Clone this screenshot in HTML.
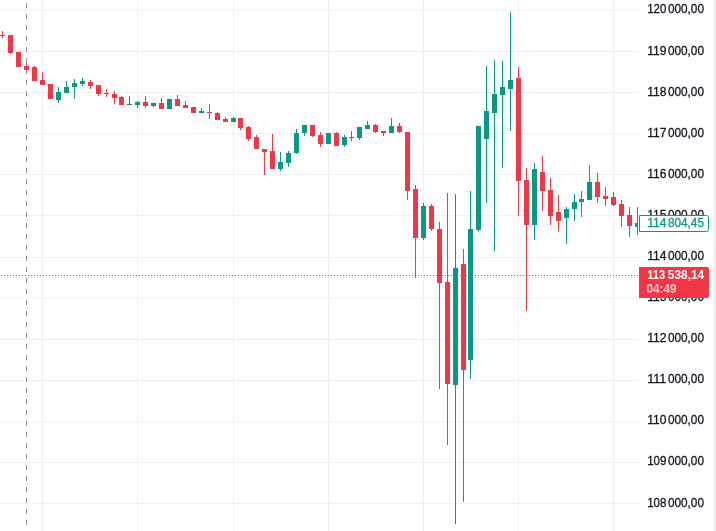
<!DOCTYPE html>
<html><head><meta charset="utf-8"><title>Chart</title>
<style>
html,body{margin:0;padding:0;background:#fff;}
body{width:716px;height:531px;overflow:hidden;}
svg{display:block;}
text{font-family:"Liberation Sans",sans-serif;font-size:12px;}
</style></head><body>
<svg width="716" height="531" viewBox="0 0 716 531">
<rect x="0" y="0" width="716" height="531" fill="#ffffff"/>
<g shape-rendering="crispEdges">
<rect x="42" y="0" width="1" height="531" fill="#2a2e39" fill-opacity="0.065"/>
<rect x="137" y="0" width="1" height="531" fill="#2a2e39" fill-opacity="0.065"/>
<rect x="233" y="0" width="1" height="531" fill="#2a2e39" fill-opacity="0.065"/>
<rect x="328" y="0" width="1" height="531" fill="#2a2e39" fill-opacity="0.065"/>
<rect x="423" y="0" width="1" height="531" fill="#2a2e39" fill-opacity="0.065"/>
<rect x="518" y="0" width="1" height="531" fill="#2a2e39" fill-opacity="0.065"/>
<rect x="613" y="0" width="1" height="531" fill="#2a2e39" fill-opacity="0.065"/>
<rect x="0" y="10" width="638" height="1" fill="#2a2e39" fill-opacity="0.065"/>
<rect x="0" y="51" width="638" height="1" fill="#2a2e39" fill-opacity="0.065"/>
<rect x="0" y="92" width="638" height="1" fill="#2a2e39" fill-opacity="0.065"/>
<rect x="0" y="133" width="638" height="1" fill="#2a2e39" fill-opacity="0.065"/>
<rect x="0" y="174" width="638" height="1" fill="#2a2e39" fill-opacity="0.065"/>
<rect x="0" y="215" width="638" height="1" fill="#2a2e39" fill-opacity="0.065"/>
<rect x="0" y="257" width="638" height="1" fill="#2a2e39" fill-opacity="0.065"/>
<rect x="0" y="298" width="638" height="1" fill="#2a2e39" fill-opacity="0.065"/>
<rect x="0" y="339" width="638" height="1" fill="#2a2e39" fill-opacity="0.065"/>
<rect x="0" y="380" width="638" height="1" fill="#2a2e39" fill-opacity="0.065"/>
<rect x="0" y="421" width="638" height="1" fill="#2a2e39" fill-opacity="0.065"/>
<rect x="0" y="462" width="638" height="1" fill="#2a2e39" fill-opacity="0.065"/>
<rect x="0" y="503" width="638" height="1" fill="#2a2e39" fill-opacity="0.065"/>
<rect x="26" y="3" width="1" height="5" fill="#8f8f8f"/>
<rect x="26" y="14" width="1" height="5" fill="#8f8f8f"/>
<rect x="26" y="25" width="1" height="5" fill="#8f8f8f"/>
<rect x="26" y="36" width="1" height="5" fill="#8f8f8f"/>
<rect x="26" y="47" width="1" height="5" fill="#8f8f8f"/>
<rect x="26" y="58" width="1" height="5" fill="#8f8f8f"/>
<rect x="26" y="69" width="1" height="5" fill="#8f8f8f"/>
<rect x="26" y="80" width="1" height="5" fill="#8f8f8f"/>
<rect x="26" y="91" width="1" height="5" fill="#8f8f8f"/>
<rect x="26" y="102" width="1" height="5" fill="#8f8f8f"/>
<rect x="26" y="113" width="1" height="5" fill="#8f8f8f"/>
<rect x="26" y="124" width="1" height="5" fill="#8f8f8f"/>
<rect x="26" y="135" width="1" height="5" fill="#8f8f8f"/>
<rect x="26" y="146" width="1" height="5" fill="#8f8f8f"/>
<rect x="26" y="157" width="1" height="5" fill="#8f8f8f"/>
<rect x="26" y="168" width="1" height="5" fill="#8f8f8f"/>
<rect x="26" y="179" width="1" height="5" fill="#8f8f8f"/>
<rect x="26" y="190" width="1" height="5" fill="#8f8f8f"/>
<rect x="26" y="201" width="1" height="5" fill="#8f8f8f"/>
<rect x="26" y="212" width="1" height="5" fill="#8f8f8f"/>
<rect x="26" y="223" width="1" height="5" fill="#8f8f8f"/>
<rect x="26" y="234" width="1" height="5" fill="#8f8f8f"/>
<rect x="26" y="245" width="1" height="5" fill="#8f8f8f"/>
<rect x="26" y="256" width="1" height="5" fill="#8f8f8f"/>
<rect x="26" y="267" width="1" height="5" fill="#8f8f8f"/>
<rect x="26" y="278" width="1" height="5" fill="#8f8f8f"/>
<rect x="26" y="289" width="1" height="5" fill="#8f8f8f"/>
<rect x="26" y="300" width="1" height="5" fill="#8f8f8f"/>
<rect x="26" y="311" width="1" height="5" fill="#8f8f8f"/>
<rect x="26" y="322" width="1" height="5" fill="#8f8f8f"/>
<rect x="26" y="333" width="1" height="5" fill="#8f8f8f"/>
<rect x="26" y="344" width="1" height="5" fill="#8f8f8f"/>
<rect x="26" y="355" width="1" height="5" fill="#8f8f8f"/>
<rect x="26" y="366" width="1" height="5" fill="#8f8f8f"/>
<rect x="26" y="377" width="1" height="5" fill="#8f8f8f"/>
<rect x="26" y="388" width="1" height="5" fill="#8f8f8f"/>
<rect x="26" y="399" width="1" height="5" fill="#8f8f8f"/>
<rect x="26" y="410" width="1" height="5" fill="#8f8f8f"/>
<rect x="26" y="421" width="1" height="5" fill="#8f8f8f"/>
<rect x="26" y="432" width="1" height="5" fill="#8f8f8f"/>
<rect x="26" y="443" width="1" height="5" fill="#8f8f8f"/>
<rect x="26" y="454" width="1" height="5" fill="#8f8f8f"/>
<rect x="26" y="465" width="1" height="5" fill="#8f8f8f"/>
<rect x="26" y="476" width="1" height="5" fill="#8f8f8f"/>
<rect x="26" y="487" width="1" height="5" fill="#8f8f8f"/>
<rect x="26" y="498" width="1" height="5" fill="#8f8f8f"/>
<rect x="26" y="509" width="1" height="5" fill="#8f8f8f"/>
<rect x="26" y="520" width="1" height="5" fill="#8f8f8f"/>
<clipPath id="pane"><rect x="0" y="0" width="638" height="531"/></clipPath>
<g clip-path="url(#pane)">
<rect x="2" y="31" width="1" height="7" fill="#f23645"/><rect x="0" y="35" width="5" height="1" fill="#f23645"/>
<rect x="10" y="35" width="1" height="19" fill="#f23645"/><rect x="8" y="35" width="5" height="18" fill="#f23645"/>
<rect x="18" y="52" width="1" height="15" fill="#f23645"/><rect x="16" y="52" width="5" height="15" fill="#f23645"/>
<rect x="26" y="63" width="1" height="8" fill="#f23645"/><rect x="24" y="66" width="5" height="4" fill="#f23645"/>
<rect x="34" y="66" width="1" height="15" fill="#f23645"/><rect x="32" y="67" width="5" height="14" fill="#f23645"/>
<rect x="42" y="72" width="1" height="13" fill="#f23645"/><rect x="40" y="80" width="5" height="5" fill="#f23645"/>
<rect x="50" y="84" width="1" height="15" fill="#f23645"/><rect x="48" y="84" width="5" height="15" fill="#f23645"/>
<rect x="58" y="87" width="1" height="16" fill="#089981"/><rect x="56" y="92" width="5" height="8" fill="#089981"/>
<rect x="66" y="81" width="1" height="12" fill="#089981"/><rect x="64" y="87" width="5" height="6" fill="#089981"/>
<rect x="74" y="79" width="1" height="20" fill="#089981"/><rect x="72" y="83" width="5" height="4" fill="#089981"/>
<rect x="82" y="78" width="1" height="8" fill="#089981"/><rect x="80" y="81" width="5" height="3" fill="#089981"/>
<rect x="90" y="80" width="1" height="9" fill="#f23645"/><rect x="88" y="82" width="5" height="4" fill="#f23645"/>
<rect x="98" y="85" width="1" height="11" fill="#f23645"/><rect x="96" y="85" width="5" height="9" fill="#f23645"/>
<rect x="106" y="89" width="1" height="8" fill="#f23645"/><rect x="104" y="93" width="5" height="1" fill="#f23645"/>
<rect x="114" y="91" width="1" height="13" fill="#f23645"/><rect x="112" y="94" width="5" height="4" fill="#f23645"/>
<rect x="121" y="96" width="1" height="9" fill="#f23645"/><rect x="119" y="97" width="5" height="8" fill="#f23645"/>
<rect x="129" y="96" width="1" height="9" fill="#089981"/><rect x="127" y="104" width="5" height="1" fill="#089981"/>
<rect x="137" y="101" width="1" height="7" fill="#089981"/><rect x="135" y="102" width="5" height="3" fill="#089981"/>
<rect x="145" y="96" width="1" height="12" fill="#f23645"/><rect x="143" y="102" width="5" height="4" fill="#f23645"/>
<rect x="153" y="103" width="1" height="4" fill="#089981"/><rect x="151" y="103" width="5" height="3" fill="#089981"/>
<rect x="161" y="98" width="1" height="11" fill="#f23645"/><rect x="159" y="103" width="5" height="6" fill="#f23645"/>
<rect x="169" y="99" width="1" height="10" fill="#089981"/><rect x="167" y="99" width="5" height="10" fill="#089981"/>
<rect x="177" y="95" width="1" height="11" fill="#f23645"/><rect x="175" y="99" width="5" height="7" fill="#f23645"/>
<rect x="185" y="101" width="1" height="7" fill="#f23645"/><rect x="183" y="105" width="5" height="3" fill="#f23645"/>
<rect x="193" y="107" width="1" height="6" fill="#f23645"/><rect x="191" y="107" width="5" height="6" fill="#f23645"/>
<rect x="201" y="108" width="1" height="5" fill="#089981"/><rect x="199" y="111" width="5" height="2" fill="#089981"/>
<rect x="209" y="104" width="1" height="15" fill="#f23645"/><rect x="207" y="112" width="5" height="1" fill="#f23645"/>
<rect x="217" y="112" width="1" height="8" fill="#f23645"/><rect x="215" y="113" width="5" height="7" fill="#f23645"/>
<rect x="225" y="117" width="1" height="5" fill="#f23645"/><rect x="223" y="119" width="5" height="3" fill="#f23645"/>
<rect x="233" y="117" width="1" height="5" fill="#089981"/><rect x="231" y="118" width="5" height="4" fill="#089981"/>
<rect x="240" y="118" width="1" height="12" fill="#f23645"/><rect x="238" y="118" width="5" height="10" fill="#f23645"/>
<rect x="248" y="126" width="1" height="15" fill="#f23645"/><rect x="246" y="127" width="5" height="12" fill="#f23645"/>
<rect x="256" y="135" width="1" height="14" fill="#f23645"/><rect x="254" y="137" width="5" height="12" fill="#f23645"/>
<rect x="264" y="149" width="1" height="26" fill="#f23645"/><rect x="262" y="149" width="5" height="3" fill="#f23645"/>
<rect x="272" y="134" width="1" height="35" fill="#f23645"/><rect x="270" y="151" width="5" height="18" fill="#f23645"/>
<rect x="280" y="152" width="1" height="19" fill="#089981"/><rect x="278" y="162" width="5" height="7" fill="#089981"/>
<rect x="288" y="151" width="1" height="16" fill="#089981"/><rect x="286" y="153" width="5" height="10" fill="#089981"/>
<rect x="296" y="129" width="1" height="25" fill="#089981"/><rect x="294" y="133" width="5" height="20" fill="#089981"/>
<rect x="304" y="125" width="1" height="11" fill="#089981"/><rect x="302" y="125" width="5" height="8" fill="#089981"/>
<rect x="312" y="125" width="1" height="12" fill="#f23645"/><rect x="310" y="125" width="5" height="11" fill="#f23645"/>
<rect x="320" y="132" width="1" height="15" fill="#f23645"/><rect x="318" y="135" width="5" height="9" fill="#f23645"/>
<rect x="328" y="133" width="1" height="11" fill="#089981"/><rect x="326" y="133" width="5" height="11" fill="#089981"/>
<rect x="336" y="132" width="1" height="14" fill="#f23645"/><rect x="334" y="133" width="5" height="13" fill="#f23645"/>
<rect x="344" y="135" width="1" height="12" fill="#089981"/><rect x="342" y="137" width="5" height="8" fill="#089981"/>
<rect x="351" y="131" width="1" height="10" fill="#089981"/><rect x="349" y="137" width="5" height="1" fill="#089981"/>
<rect x="359" y="127" width="1" height="13" fill="#089981"/><rect x="357" y="127" width="5" height="11" fill="#089981"/>
<rect x="367" y="121" width="1" height="8" fill="#089981"/><rect x="365" y="125" width="5" height="4" fill="#089981"/>
<rect x="375" y="124" width="1" height="9" fill="#f23645"/><rect x="373" y="125" width="5" height="7" fill="#f23645"/>
<rect x="383" y="131" width="1" height="5" fill="#f23645"/><rect x="381" y="131" width="5" height="2" fill="#f23645"/>
<rect x="391" y="118" width="1" height="15" fill="#089981"/><rect x="389" y="126" width="5" height="7" fill="#089981"/>
<rect x="399" y="123" width="1" height="10" fill="#f23645"/><rect x="397" y="126" width="5" height="6" fill="#f23645"/>
<rect x="407" y="132" width="1" height="68" fill="#f23645"/><rect x="405" y="132" width="5" height="59" fill="#f23645"/>
<rect x="415" y="185" width="1" height="93" fill="#f23645"/><rect x="413" y="189" width="5" height="49" fill="#f23645"/>
<rect x="423" y="203" width="1" height="37" fill="#089981"/><rect x="421" y="206" width="5" height="32" fill="#089981"/>
<rect x="431" y="204" width="1" height="27" fill="#f23645"/><rect x="429" y="206" width="5" height="23" fill="#f23645"/>
<rect x="439" y="222" width="1" height="167" fill="#f23645"/><rect x="437" y="229" width="5" height="54" fill="#f23645"/>
<rect x="447" y="193" width="1" height="252" fill="#f23645"/><rect x="445" y="282" width="5" height="102" fill="#f23645"/>
<rect x="455" y="194" width="1" height="330" fill="#089981"/><rect x="453" y="268" width="5" height="117" fill="#089981"/>
<rect x="463" y="249" width="1" height="253" fill="#f23645"/><rect x="461" y="264" width="5" height="106" fill="#f23645"/>
<rect x="470" y="191" width="1" height="188" fill="#089981"/><rect x="468" y="229" width="5" height="131" fill="#089981"/>
<rect x="478" y="126" width="1" height="106" fill="#089981"/><rect x="476" y="126" width="5" height="104" fill="#089981"/>
<rect x="486" y="66" width="1" height="137" fill="#089981"/><rect x="484" y="111" width="5" height="28" fill="#089981"/>
<rect x="494" y="60" width="1" height="191" fill="#089981"/><rect x="492" y="94" width="5" height="19" fill="#089981"/>
<rect x="502" y="61" width="1" height="107" fill="#089981"/><rect x="500" y="87" width="5" height="8" fill="#089981"/>
<rect x="510" y="12" width="1" height="119" fill="#089981"/><rect x="508" y="80" width="5" height="9" fill="#089981"/>
<rect x="518" y="67" width="1" height="149" fill="#f23645"/><rect x="516" y="78" width="5" height="103" fill="#f23645"/>
<rect x="526" y="168" width="1" height="143" fill="#f23645"/><rect x="524" y="180" width="5" height="45" fill="#f23645"/>
<rect x="534" y="163" width="1" height="77" fill="#089981"/><rect x="532" y="169" width="5" height="56" fill="#089981"/>
<rect x="542" y="156" width="1" height="55" fill="#f23645"/><rect x="540" y="172" width="5" height="19" fill="#f23645"/>
<rect x="550" y="178" width="1" height="47" fill="#f23645"/><rect x="548" y="190" width="5" height="26" fill="#f23645"/>
<rect x="558" y="195" width="1" height="37" fill="#f23645"/><rect x="556" y="212" width="5" height="9" fill="#f23645"/>
<rect x="566" y="207" width="1" height="37" fill="#089981"/><rect x="564" y="209" width="5" height="9" fill="#089981"/>
<rect x="574" y="194" width="1" height="27" fill="#089981"/><rect x="572" y="202" width="5" height="7" fill="#089981"/>
<rect x="581" y="191" width="1" height="26" fill="#089981"/><rect x="579" y="199" width="5" height="3" fill="#089981"/>
<rect x="589" y="165" width="1" height="35" fill="#089981"/><rect x="587" y="182" width="5" height="18" fill="#089981"/>
<rect x="597" y="173" width="1" height="30" fill="#f23645"/><rect x="595" y="182" width="5" height="15" fill="#f23645"/>
<rect x="605" y="187" width="1" height="19" fill="#f23645"/><rect x="603" y="196" width="5" height="3" fill="#f23645"/>
<rect x="613" y="192" width="1" height="14" fill="#f23645"/><rect x="611" y="197" width="5" height="8" fill="#f23645"/>
<rect x="621" y="200" width="1" height="27" fill="#f23645"/><rect x="619" y="204" width="5" height="12" fill="#f23645"/>
<rect x="629" y="207" width="1" height="30" fill="#f23645"/><rect x="627" y="215" width="5" height="11" fill="#f23645"/>
<rect x="637" y="207" width="1" height="28" fill="#089981"/><rect x="635" y="223" width="5" height="4" fill="#089981"/>
</g>
<rect x="1" y="275" width="1" height="1" fill="#f23645"/><rect x="4" y="275" width="1" height="1" fill="#f23645"/><rect x="7" y="275" width="1" height="1" fill="#f23645"/><rect x="10" y="275" width="1" height="1" fill="#f23645"/><rect x="13" y="275" width="1" height="1" fill="#f23645"/><rect x="16" y="275" width="1" height="1" fill="#f23645"/><rect x="19" y="275" width="1" height="1" fill="#f23645"/><rect x="22" y="275" width="1" height="1" fill="#f23645"/><rect x="25" y="275" width="1" height="1" fill="#f23645"/><rect x="28" y="275" width="1" height="1" fill="#f23645"/><rect x="31" y="275" width="1" height="1" fill="#f23645"/><rect x="34" y="275" width="1" height="1" fill="#f23645"/><rect x="37" y="275" width="1" height="1" fill="#f23645"/><rect x="40" y="275" width="1" height="1" fill="#f23645"/><rect x="43" y="275" width="1" height="1" fill="#f23645"/><rect x="46" y="275" width="1" height="1" fill="#f23645"/><rect x="49" y="275" width="1" height="1" fill="#f23645"/><rect x="52" y="275" width="1" height="1" fill="#f23645"/><rect x="55" y="275" width="1" height="1" fill="#f23645"/><rect x="58" y="275" width="1" height="1" fill="#f23645"/><rect x="61" y="275" width="1" height="1" fill="#f23645"/><rect x="64" y="275" width="1" height="1" fill="#f23645"/><rect x="67" y="275" width="1" height="1" fill="#f23645"/><rect x="70" y="275" width="1" height="1" fill="#f23645"/><rect x="73" y="275" width="1" height="1" fill="#f23645"/><rect x="76" y="275" width="1" height="1" fill="#f23645"/><rect x="79" y="275" width="1" height="1" fill="#f23645"/><rect x="82" y="275" width="1" height="1" fill="#f23645"/><rect x="85" y="275" width="1" height="1" fill="#f23645"/><rect x="88" y="275" width="1" height="1" fill="#f23645"/><rect x="91" y="275" width="1" height="1" fill="#f23645"/><rect x="94" y="275" width="1" height="1" fill="#f23645"/><rect x="97" y="275" width="1" height="1" fill="#f23645"/><rect x="100" y="275" width="1" height="1" fill="#f23645"/><rect x="103" y="275" width="1" height="1" fill="#f23645"/><rect x="106" y="275" width="1" height="1" fill="#f23645"/><rect x="109" y="275" width="1" height="1" fill="#f23645"/><rect x="112" y="275" width="1" height="1" fill="#f23645"/><rect x="115" y="275" width="1" height="1" fill="#f23645"/><rect x="118" y="275" width="1" height="1" fill="#f23645"/><rect x="121" y="275" width="1" height="1" fill="#f23645"/><rect x="124" y="275" width="1" height="1" fill="#f23645"/><rect x="127" y="275" width="1" height="1" fill="#f23645"/><rect x="130" y="275" width="1" height="1" fill="#f23645"/><rect x="133" y="275" width="1" height="1" fill="#f23645"/><rect x="136" y="275" width="1" height="1" fill="#f23645"/><rect x="139" y="275" width="1" height="1" fill="#f23645"/><rect x="142" y="275" width="1" height="1" fill="#f23645"/><rect x="145" y="275" width="1" height="1" fill="#f23645"/><rect x="148" y="275" width="1" height="1" fill="#f23645"/><rect x="151" y="275" width="1" height="1" fill="#f23645"/><rect x="154" y="275" width="1" height="1" fill="#f23645"/><rect x="157" y="275" width="1" height="1" fill="#f23645"/><rect x="160" y="275" width="1" height="1" fill="#f23645"/><rect x="163" y="275" width="1" height="1" fill="#f23645"/><rect x="166" y="275" width="1" height="1" fill="#f23645"/><rect x="169" y="275" width="1" height="1" fill="#f23645"/><rect x="172" y="275" width="1" height="1" fill="#f23645"/><rect x="175" y="275" width="1" height="1" fill="#f23645"/><rect x="178" y="275" width="1" height="1" fill="#f23645"/><rect x="181" y="275" width="1" height="1" fill="#f23645"/><rect x="184" y="275" width="1" height="1" fill="#f23645"/><rect x="187" y="275" width="1" height="1" fill="#f23645"/><rect x="190" y="275" width="1" height="1" fill="#f23645"/><rect x="193" y="275" width="1" height="1" fill="#f23645"/><rect x="196" y="275" width="1" height="1" fill="#f23645"/><rect x="199" y="275" width="1" height="1" fill="#f23645"/><rect x="202" y="275" width="1" height="1" fill="#f23645"/><rect x="205" y="275" width="1" height="1" fill="#f23645"/><rect x="208" y="275" width="1" height="1" fill="#f23645"/><rect x="211" y="275" width="1" height="1" fill="#f23645"/><rect x="214" y="275" width="1" height="1" fill="#f23645"/><rect x="217" y="275" width="1" height="1" fill="#f23645"/><rect x="220" y="275" width="1" height="1" fill="#f23645"/><rect x="223" y="275" width="1" height="1" fill="#f23645"/><rect x="226" y="275" width="1" height="1" fill="#f23645"/><rect x="229" y="275" width="1" height="1" fill="#f23645"/><rect x="232" y="275" width="1" height="1" fill="#f23645"/><rect x="235" y="275" width="1" height="1" fill="#f23645"/><rect x="238" y="275" width="1" height="1" fill="#f23645"/><rect x="241" y="275" width="1" height="1" fill="#f23645"/><rect x="244" y="275" width="1" height="1" fill="#f23645"/><rect x="247" y="275" width="1" height="1" fill="#f23645"/><rect x="250" y="275" width="1" height="1" fill="#f23645"/><rect x="253" y="275" width="1" height="1" fill="#f23645"/><rect x="256" y="275" width="1" height="1" fill="#f23645"/><rect x="259" y="275" width="1" height="1" fill="#f23645"/><rect x="262" y="275" width="1" height="1" fill="#f23645"/><rect x="265" y="275" width="1" height="1" fill="#f23645"/><rect x="268" y="275" width="1" height="1" fill="#f23645"/><rect x="271" y="275" width="1" height="1" fill="#f23645"/><rect x="274" y="275" width="1" height="1" fill="#f23645"/><rect x="277" y="275" width="1" height="1" fill="#f23645"/><rect x="280" y="275" width="1" height="1" fill="#f23645"/><rect x="283" y="275" width="1" height="1" fill="#f23645"/><rect x="286" y="275" width="1" height="1" fill="#f23645"/><rect x="289" y="275" width="1" height="1" fill="#f23645"/><rect x="292" y="275" width="1" height="1" fill="#f23645"/><rect x="295" y="275" width="1" height="1" fill="#f23645"/><rect x="298" y="275" width="1" height="1" fill="#f23645"/><rect x="301" y="275" width="1" height="1" fill="#f23645"/><rect x="304" y="275" width="1" height="1" fill="#f23645"/><rect x="307" y="275" width="1" height="1" fill="#f23645"/><rect x="310" y="275" width="1" height="1" fill="#f23645"/><rect x="313" y="275" width="1" height="1" fill="#f23645"/><rect x="316" y="275" width="1" height="1" fill="#f23645"/><rect x="319" y="275" width="1" height="1" fill="#f23645"/><rect x="322" y="275" width="1" height="1" fill="#f23645"/><rect x="325" y="275" width="1" height="1" fill="#f23645"/><rect x="328" y="275" width="1" height="1" fill="#f23645"/><rect x="331" y="275" width="1" height="1" fill="#f23645"/><rect x="334" y="275" width="1" height="1" fill="#f23645"/><rect x="337" y="275" width="1" height="1" fill="#f23645"/><rect x="340" y="275" width="1" height="1" fill="#f23645"/><rect x="343" y="275" width="1" height="1" fill="#f23645"/><rect x="346" y="275" width="1" height="1" fill="#f23645"/><rect x="349" y="275" width="1" height="1" fill="#f23645"/><rect x="352" y="275" width="1" height="1" fill="#f23645"/><rect x="355" y="275" width="1" height="1" fill="#f23645"/><rect x="358" y="275" width="1" height="1" fill="#f23645"/><rect x="361" y="275" width="1" height="1" fill="#f23645"/><rect x="364" y="275" width="1" height="1" fill="#f23645"/><rect x="367" y="275" width="1" height="1" fill="#f23645"/><rect x="370" y="275" width="1" height="1" fill="#f23645"/><rect x="373" y="275" width="1" height="1" fill="#f23645"/><rect x="376" y="275" width="1" height="1" fill="#f23645"/><rect x="379" y="275" width="1" height="1" fill="#f23645"/><rect x="382" y="275" width="1" height="1" fill="#f23645"/><rect x="385" y="275" width="1" height="1" fill="#f23645"/><rect x="388" y="275" width="1" height="1" fill="#f23645"/><rect x="391" y="275" width="1" height="1" fill="#f23645"/><rect x="394" y="275" width="1" height="1" fill="#f23645"/><rect x="397" y="275" width="1" height="1" fill="#f23645"/><rect x="400" y="275" width="1" height="1" fill="#f23645"/><rect x="403" y="275" width="1" height="1" fill="#f23645"/><rect x="406" y="275" width="1" height="1" fill="#f23645"/><rect x="409" y="275" width="1" height="1" fill="#f23645"/><rect x="412" y="275" width="1" height="1" fill="#f23645"/><rect x="415" y="275" width="1" height="1" fill="#f23645"/><rect x="418" y="275" width="1" height="1" fill="#f23645"/><rect x="421" y="275" width="1" height="1" fill="#f23645"/><rect x="424" y="275" width="1" height="1" fill="#f23645"/><rect x="427" y="275" width="1" height="1" fill="#f23645"/><rect x="430" y="275" width="1" height="1" fill="#f23645"/><rect x="433" y="275" width="1" height="1" fill="#f23645"/><rect x="436" y="275" width="1" height="1" fill="#f23645"/><rect x="439" y="275" width="1" height="1" fill="#f23645"/><rect x="442" y="275" width="1" height="1" fill="#f23645"/><rect x="445" y="275" width="1" height="1" fill="#f23645"/><rect x="448" y="275" width="1" height="1" fill="#f23645"/><rect x="451" y="275" width="1" height="1" fill="#f23645"/><rect x="454" y="275" width="1" height="1" fill="#f23645"/><rect x="457" y="275" width="1" height="1" fill="#f23645"/><rect x="460" y="275" width="1" height="1" fill="#f23645"/><rect x="463" y="275" width="1" height="1" fill="#f23645"/><rect x="466" y="275" width="1" height="1" fill="#f23645"/><rect x="469" y="275" width="1" height="1" fill="#f23645"/><rect x="472" y="275" width="1" height="1" fill="#f23645"/><rect x="475" y="275" width="1" height="1" fill="#f23645"/><rect x="478" y="275" width="1" height="1" fill="#f23645"/><rect x="481" y="275" width="1" height="1" fill="#f23645"/><rect x="484" y="275" width="1" height="1" fill="#f23645"/><rect x="487" y="275" width="1" height="1" fill="#f23645"/><rect x="490" y="275" width="1" height="1" fill="#f23645"/><rect x="493" y="275" width="1" height="1" fill="#f23645"/><rect x="496" y="275" width="1" height="1" fill="#f23645"/><rect x="499" y="275" width="1" height="1" fill="#f23645"/><rect x="502" y="275" width="1" height="1" fill="#f23645"/><rect x="505" y="275" width="1" height="1" fill="#f23645"/><rect x="508" y="275" width="1" height="1" fill="#f23645"/><rect x="511" y="275" width="1" height="1" fill="#f23645"/><rect x="514" y="275" width="1" height="1" fill="#f23645"/><rect x="517" y="275" width="1" height="1" fill="#f23645"/><rect x="520" y="275" width="1" height="1" fill="#f23645"/><rect x="523" y="275" width="1" height="1" fill="#f23645"/><rect x="526" y="275" width="1" height="1" fill="#f23645"/><rect x="529" y="275" width="1" height="1" fill="#f23645"/><rect x="532" y="275" width="1" height="1" fill="#f23645"/><rect x="535" y="275" width="1" height="1" fill="#f23645"/><rect x="538" y="275" width="1" height="1" fill="#f23645"/><rect x="541" y="275" width="1" height="1" fill="#f23645"/><rect x="544" y="275" width="1" height="1" fill="#f23645"/><rect x="547" y="275" width="1" height="1" fill="#f23645"/><rect x="550" y="275" width="1" height="1" fill="#f23645"/><rect x="553" y="275" width="1" height="1" fill="#f23645"/><rect x="556" y="275" width="1" height="1" fill="#f23645"/><rect x="559" y="275" width="1" height="1" fill="#f23645"/><rect x="562" y="275" width="1" height="1" fill="#f23645"/><rect x="565" y="275" width="1" height="1" fill="#f23645"/><rect x="568" y="275" width="1" height="1" fill="#f23645"/><rect x="571" y="275" width="1" height="1" fill="#f23645"/><rect x="574" y="275" width="1" height="1" fill="#f23645"/><rect x="577" y="275" width="1" height="1" fill="#f23645"/><rect x="580" y="275" width="1" height="1" fill="#f23645"/><rect x="583" y="275" width="1" height="1" fill="#f23645"/><rect x="586" y="275" width="1" height="1" fill="#f23645"/><rect x="589" y="275" width="1" height="1" fill="#f23645"/><rect x="592" y="275" width="1" height="1" fill="#f23645"/><rect x="595" y="275" width="1" height="1" fill="#f23645"/><rect x="598" y="275" width="1" height="1" fill="#f23645"/><rect x="601" y="275" width="1" height="1" fill="#f23645"/><rect x="604" y="275" width="1" height="1" fill="#f23645"/><rect x="607" y="275" width="1" height="1" fill="#f23645"/><rect x="610" y="275" width="1" height="1" fill="#f23645"/><rect x="613" y="275" width="1" height="1" fill="#f23645"/><rect x="616" y="275" width="1" height="1" fill="#f23645"/><rect x="619" y="275" width="1" height="1" fill="#f23645"/><rect x="622" y="275" width="1" height="1" fill="#f23645"/><rect x="625" y="275" width="1" height="1" fill="#f23645"/><rect x="628" y="275" width="1" height="1" fill="#f23645"/><rect x="631" y="275" width="1" height="1" fill="#f23645"/><rect x="634" y="275" width="1" height="1" fill="#f23645"/><rect x="637" y="275" width="1" height="1" fill="#f23645"/>
<rect x="714" y="0" width="2" height="531" fill="#ebebeb"/>
</g>
<text y="12.8" fill="#131722" stroke="#131722" stroke-width="0.3" font-size="11.8"><tspan x="647.2" textLength="19.2" lengthAdjust="spacingAndGlyphs">120</tspan> <tspan x="667.9" textLength="36.1" lengthAdjust="spacingAndGlyphs">000,00</tspan></text>
<text y="54.9" fill="#131722" stroke="#131722" stroke-width="0.3" font-size="11.8"><tspan x="647.2" textLength="19.2" lengthAdjust="spacingAndGlyphs">119</tspan> <tspan x="667.9" textLength="36.1" lengthAdjust="spacingAndGlyphs">000,00</tspan></text>
<text y="95.8" fill="#131722" stroke="#131722" stroke-width="0.3" font-size="11.8"><tspan x="647.2" textLength="19.2" lengthAdjust="spacingAndGlyphs">118</tspan> <tspan x="667.9" textLength="36.1" lengthAdjust="spacingAndGlyphs">000,00</tspan></text>
<text y="136.8" fill="#131722" stroke="#131722" stroke-width="0.3" font-size="11.8"><tspan x="647.2" textLength="19.2" lengthAdjust="spacingAndGlyphs">117</tspan> <tspan x="667.9" textLength="36.1" lengthAdjust="spacingAndGlyphs">000,00</tspan></text>
<text y="177.8" fill="#131722" stroke="#131722" stroke-width="0.3" font-size="11.8"><tspan x="647.2" textLength="19.2" lengthAdjust="spacingAndGlyphs">116</tspan> <tspan x="667.9" textLength="36.1" lengthAdjust="spacingAndGlyphs">000,00</tspan></text>
<text y="218.8" fill="#131722" stroke="#131722" stroke-width="0.3" font-size="11.8"><tspan x="647.2" textLength="19.2" lengthAdjust="spacingAndGlyphs">115</tspan> <tspan x="667.9" textLength="36.1" lengthAdjust="spacingAndGlyphs">000,00</tspan></text>
<text y="259.9" fill="#131722" stroke="#131722" stroke-width="0.3" font-size="11.8"><tspan x="647.2" textLength="19.2" lengthAdjust="spacingAndGlyphs">114</tspan> <tspan x="667.9" textLength="36.1" lengthAdjust="spacingAndGlyphs">000,00</tspan></text>
<text y="300.9" fill="#131722" stroke="#131722" stroke-width="0.3" font-size="11.8"><tspan x="647.2" textLength="19.2" lengthAdjust="spacingAndGlyphs">113</tspan> <tspan x="667.9" textLength="36.1" lengthAdjust="spacingAndGlyphs">000,00</tspan></text>
<text y="341.9" fill="#131722" stroke="#131722" stroke-width="0.3" font-size="11.8"><tspan x="647.2" textLength="19.2" lengthAdjust="spacingAndGlyphs">112</tspan> <tspan x="667.9" textLength="36.1" lengthAdjust="spacingAndGlyphs">000,00</tspan></text>
<text y="382.9" fill="#131722" stroke="#131722" stroke-width="0.3" font-size="11.8"><tspan x="647.2" textLength="19.2" lengthAdjust="spacingAndGlyphs">111</tspan> <tspan x="667.9" textLength="36.1" lengthAdjust="spacingAndGlyphs">000,00</tspan></text>
<text y="423.9" fill="#131722" stroke="#131722" stroke-width="0.3" font-size="11.8"><tspan x="647.2" textLength="19.2" lengthAdjust="spacingAndGlyphs">110</tspan> <tspan x="667.9" textLength="36.1" lengthAdjust="spacingAndGlyphs">000,00</tspan></text>
<text y="464.9" fill="#131722" stroke="#131722" stroke-width="0.3" font-size="11.8"><tspan x="647.2" textLength="19.2" lengthAdjust="spacingAndGlyphs">109</tspan> <tspan x="667.9" textLength="36.1" lengthAdjust="spacingAndGlyphs">000,00</tspan></text>
<text y="506.9" fill="#131722" stroke="#131722" stroke-width="0.3" font-size="11.8"><tspan x="647.2" textLength="19.2" lengthAdjust="spacingAndGlyphs">108</tspan> <tspan x="667.9" textLength="36.1" lengthAdjust="spacingAndGlyphs">000,00</tspan></text>
<path d="M639.5 215.5H706.5Q708.5 215.5 708.5 217.5V229.5Q708.5 231.5 706.5 231.5H639.5Z" fill="#ffffff" stroke="#089981" stroke-width="1"/>
<text y="227.0" fill="#089981" stroke="#089981" stroke-width="0.3" font-size="11.8"><tspan x="647.2" textLength="19.2" lengthAdjust="spacingAndGlyphs">114</tspan> <tspan x="667.9" textLength="36.1" lengthAdjust="spacingAndGlyphs">804,45</tspan></text>
<path d="M639 267H707Q709 267 709 269V296Q709 298 707 298H639Z" fill="#f23645"/>
<text y="279.0" fill="#ffffff" stroke="#ffffff" stroke-width="0" font-weight="bold" font-size="11.8"><tspan x="647.3" textLength="17.8" lengthAdjust="spacingAndGlyphs">113</tspan> <tspan x="667.8" textLength="36.4" lengthAdjust="spacingAndGlyphs">538,14</tspan></text>
<text x="646.6" y="293.2" fill="#ffffff" fill-opacity="0.72" font-weight="bold" font-size="11.8" textLength="29.8" lengthAdjust="spacingAndGlyphs">04:49</text>
</svg>
</body></html>
